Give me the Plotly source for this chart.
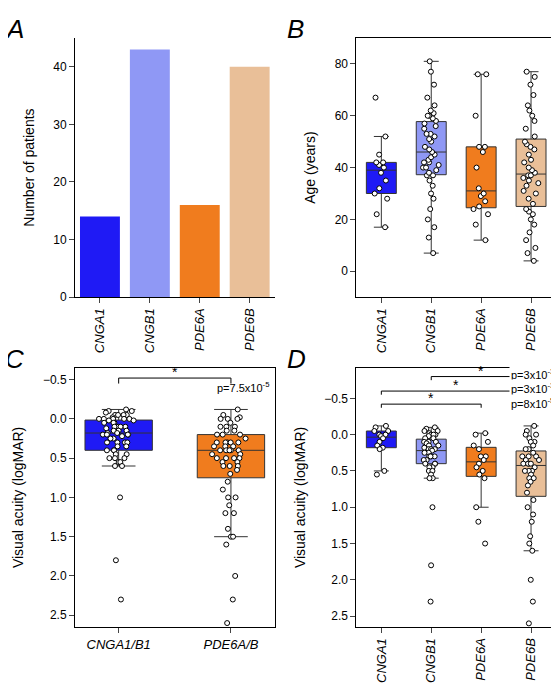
import plotly.graph_objects as go
from plotly.subplots import make_subplots

genes = ["CNGA1", "CNGB1", "PDE6A", "PDE6B"]
n_patients = [14, 43, 16, 40]
colors = ["#1f1af5", "#8f98f5", "#f07c1e", "#e9bf98"]

age = {
    "CNGA1": [17, 22, 28, 30, 32, 35, 38, 40, 41, 42, 42, 45, 52, 67],
    "CNGB1": [7, 13, 17, 20, 24, 28, 30, 33, 35, 37, 37, 38, 39, 40, 40, 41, 42, 42,
              43, 44, 45, 46, 47, 48, 50, 51, 52, 53, 53, 55, 56, 57, 58, 59, 60, 60,
              61, 62, 64, 67, 72, 77, 81],
    "PDE6A": [12, 18, 22, 24, 25, 27, 29, 30, 32, 40, 46, 48, 48, 60, 76, 76],
    "PDE6B": [4, 7, 9, 12, 15, 18, 20, 22, 23, 24, 26, 28, 30, 31, 33, 34, 35, 36, 37,
              37, 38, 39, 40, 42, 43, 45, 47, 48, 49, 50, 52, 55, 58, 60, 62, 64, 68,
              72, 75, 77],
}

va = {
    "CNGA1": [-0.12, -0.1, -0.05, -0.05, 0.0, 0.0, 0.02, 0.05, 0.1, 0.15, 0.18, 0.2,
              0.5, 0.55],
    "CNGB1": [-0.1, -0.08, -0.05, -0.05, -0.02, 0.0, 0.0, 0.0, 0.02, 0.05, 0.05, 0.1,
              0.1, 0.1, 0.15, 0.15, 0.18, 0.2, 0.2, 0.2, 0.22, 0.25, 0.3, 0.3, 0.3,
              0.35, 0.4, 0.4, 0.4, 0.45, 0.5, 0.5, 0.55, 0.6, 0.6, 0.45, 0.3, 0.25,
              0.35, 1.0, 1.8, 2.3, 0.12],
    "PDE6A": [-0.02, 0.0, 0.1, 0.15, 0.2, 0.3, 0.3, 0.35, 0.4, 0.45, 0.5, 0.55, 0.6,
              1.0, 1.2, 1.5],
    "PDE6B": [-0.12, -0.05, 0.0, 0.0, 0.05, 0.1, 0.1, 0.15, 0.2, 0.2, 0.25, 0.3, 0.3,
              0.3, 0.35, 0.35, 0.4, 0.4, 0.4, 0.4, 0.45, 0.5, 0.5, 0.5, 0.55, 0.6, 0.6,
              0.65, 0.7, 0.8, 0.9, 1.0, 1.1, 1.2, 1.4, 1.5, 1.6, 2.0, 2.3, 2.6],
}

pooled = ["CNGA1/B1", "PDE6A/B"]
pvals_c = ["p=7.5x10<sup>-5</sup>"]
pvals_d = ["p=3x10<sup>-3</sup>", "p=3x10<sup>-3</sup>", "p=8x10<sup>-5</sup>"]

fig = make_subplots(rows=2, cols=2, horizontal_spacing=0.17, vertical_spacing=0.12)

def lab(g):
    return "<i>" + g + "</i>"

fig.add_trace(go.Bar(x=[lab(g) for g in genes], y=n_patients, marker_color=colors,
                     marker_line_width=0, width=0.8), 1, 1)

def boxes(data, names, cols, row, col):
    for name, c in zip(names, cols):
        fig.add_trace(go.Box(
            y=data[name], name=lab(name), boxpoints="all", jitter=0.6, pointpos=0,
            fillcolor=c, line=dict(color="#333", width=1),
            marker=dict(color="white", size=5, line=dict(color="black", width=1)),
            whiskerwidth=0.5, width=0.6), row, col)

boxes(age, genes, colors, 1, 2)
pooled_data = {"CNGA1/B1": va["CNGA1"] + va["CNGB1"], "PDE6A/B": va["PDE6A"] + va["PDE6B"]}
boxes(pooled_data, pooled, [colors[0], colors[2]], 2, 1)
boxes(va, genes, colors, 2, 2)

fig.update_layout(
    width=559, height=685, showlegend=False, plot_bgcolor="white",
    paper_bgcolor="white", margin=dict(l=60, r=10, t=30, b=55),
    font=dict(family="Liberation Sans, Arial", size=12, color="black"),
)
fig.update_xaxes(showline=True, linecolor="black", mirror=True, ticks="outside",
                 tickangle=-90, tickfont=dict(size=13))
fig.update_yaxes(showline=True, linecolor="black", mirror=True, ticks="outside",
                 showgrid=False, zeroline=False)
fig.update_xaxes(tickangle=0, row=2, col=1)
fig.update_xaxes(mirror=False, row=1, col=1)
fig.update_yaxes(mirror=False, range=[0, 45], dtick=10, title_text="Number of patients",
                 row=1, col=1)
fig.update_yaxes(range=[-10, 90], dtick=20, title_text="Age (years)", row=1, col=2)
fig.update_yaxes(range=[2.65, -0.65], dtick=0.5, tickformat=".1f",
                 title_text="Visual acuity (logMAR)", row=2, col=1)
fig.update_yaxes(range=[2.65, -0.92], dtick=0.5, tickformat=".1f",
                 title_text="Visual acuity (logMAR)", row=2, col=2)

for t, ax in zip("ABCD", ["x", "x2", "x3", "x4"]):
    fig.add_annotation(text="<i>" + t + "</i>", xref=ax + " domain", yref="y" + ax[1:] + " domain",
                       x=-0.36, y=1.1, showarrow=False, font=dict(size=26),
                       xanchor="left", yanchor="top")

# panel C bracket
fig.add_shape(type="path", xref="x3", yref="y3", line=dict(color="black", width=1),
              path="M 0,-0.45 L 0,-0.52 L 1,-0.52 L 1,-0.45")
fig.add_annotation(text="*", x=0.5, y=-0.52, xref="x3", yref="y3", showarrow=False,
                   yshift=6, font=dict(size=14))
fig.add_annotation(text=pvals_c[0], xref="x3 domain", yref="y3", x=0.7, y=-0.4,
                   showarrow=False, xanchor="left", font=dict(size=11))

# panel D brackets
for (a, b, lvl) in [(0, 2, -0.42), (0, 3, -0.6), (1, 3, -0.8)]:
    fig.add_shape(type="path", xref="x4", yref="y4", line=dict(color="black", width=1),
                  path=f"M {a},{lvl + 0.05} L {a},{lvl} L {b},{lvl} L {b},{lvl + 0.05}")
    fig.add_annotation(text="*", x=(a + b) / 2, y=lvl, xref="x4", yref="y4",
                       showarrow=False, yshift=6, font=dict(size=14))
for i, p in enumerate(pvals_d):
    fig.add_annotation(text=p, xref="paper", yref="y4", x=1.0, y=-0.84 + i * 0.2,
                       showarrow=False, xanchor="right", bgcolor="white",
                       font=dict(size=11))

fig.write_html("out.html")
